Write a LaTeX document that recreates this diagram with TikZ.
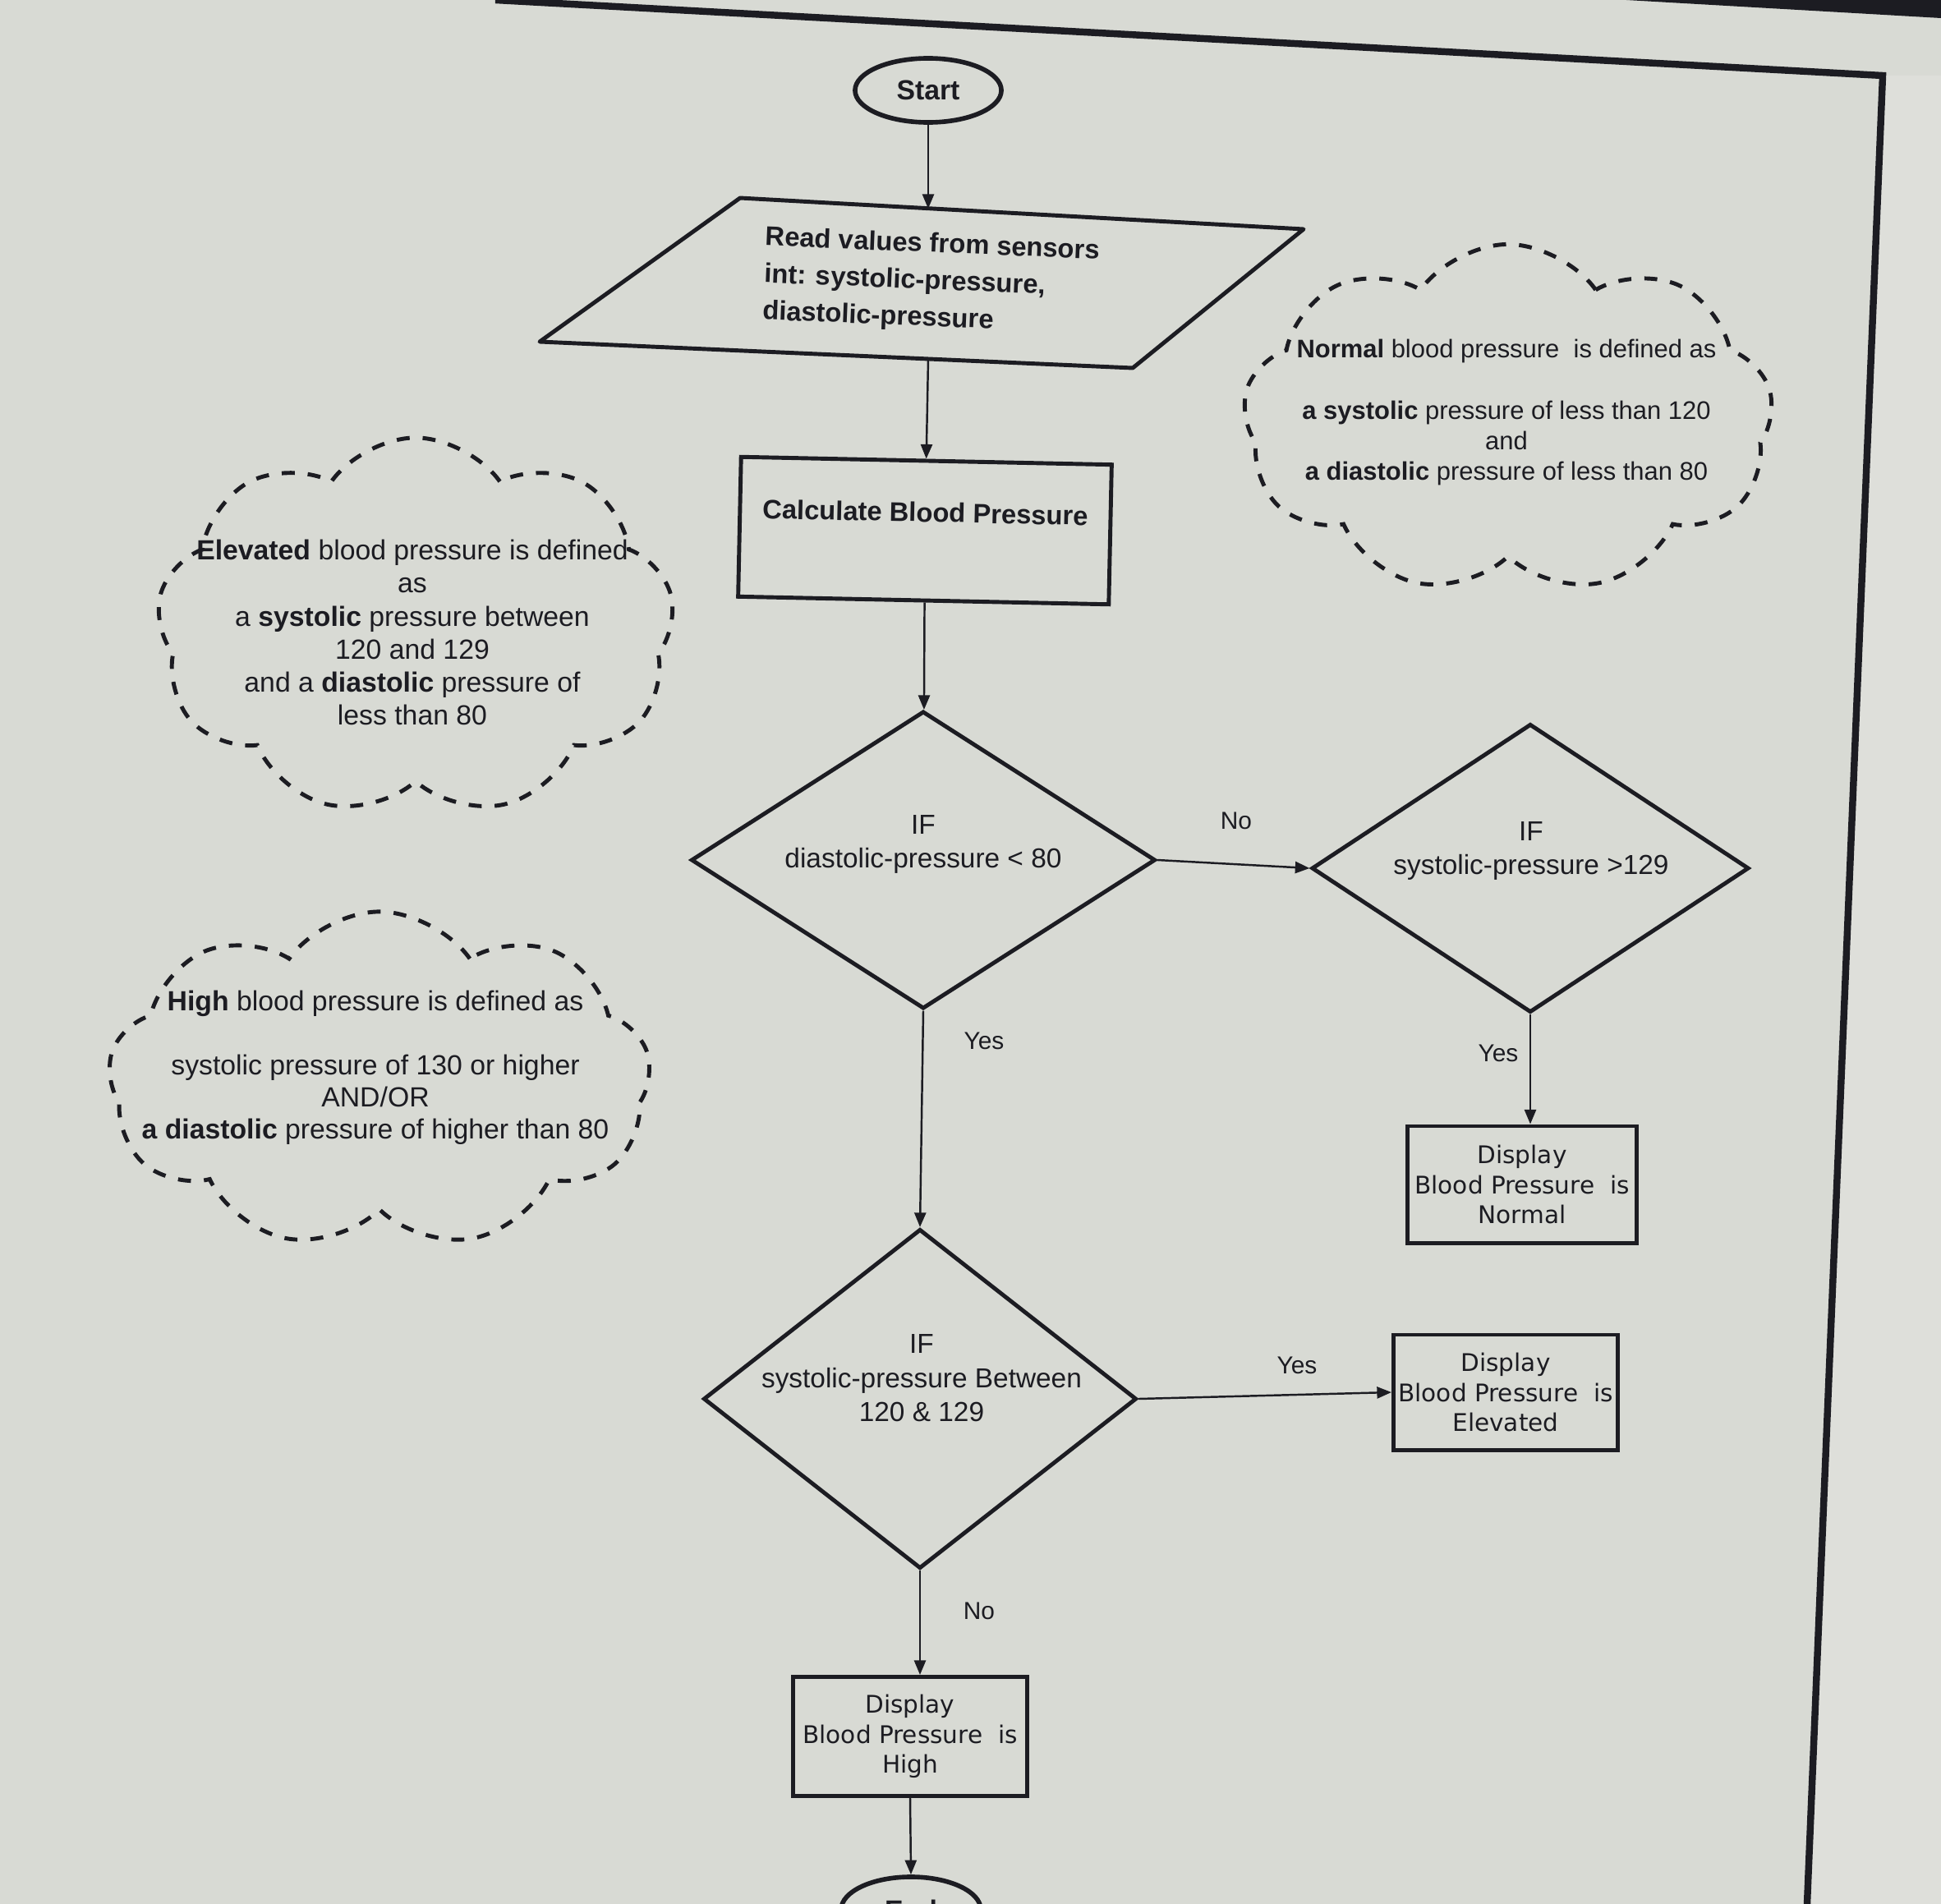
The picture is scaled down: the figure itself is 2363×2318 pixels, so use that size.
\documentclass[tikz,border=0pt]{standalone}
\usepackage{fontspec}
\setmainfont{Liberation Sans}
\newfontfamily\dvs{DejaVu Sans}
\usetikzlibrary{shapes.geometric,shapes.symbols,arrows.meta}
\definecolor{bgc}{RGB}{216,218,212}
\definecolor{bgr}{RGB}{222,223,218}
\definecolor{ink}{RGB}{28,28,34}
\begin{document}
\begin{tikzpicture}[x=0.01cm,y=-0.01cm,
  shapeline/.style={draw=ink, line width=1.4pt, line join=round},
  conn/.style={draw=ink, line width=0.7pt, -{Triangle[length=5pt,width=4pt]}},
  startend/.style={ellipse, draw=ink, line width=1.6pt, minimum width=1.78cm, minimum height=0.78cm, inner sep=0pt, font=\bfseries\fontsize{9.6}{11}\selectfont, text=ink},
  dia/.style={diamond, draw=ink, line width=1.4pt, inner sep=0pt},
  boxx/.style={rectangle, draw=ink, line width=1.4pt, align=center, inner sep=0pt, text=ink},
  disp/.style={boxx, font=\dvs\fontsize{8.4}{10.3}\selectfont},
  flowtxt/.style={font=\bfseries\fontsize{9.3}{12.8}\selectfont, text=ink},
  diatxt/.style={align=center, font=\fontsize{9.5}{11.8}\selectfont, text=ink},
  lbl/.style={font=\fontsize{8.5}{10}\selectfont, text=ink},
  cloudb/.style={cloud, cloud puffs=9, cloud puff arc=110, cloud ignores aspect, draw=ink, line width=1.4pt, dash pattern=on 4.5pt off 4.5pt, inner sep=0pt},
  cloudtxt/.style={align=center, text=ink},
]
\useasboundingbox (0,0) rectangle (2363,2318);
\clip (0,0) rectangle (2363,2318);
\fill[bgc] (0,0) rectangle (2363,2318);
% page edge of the photographed screen
\fill[bgr] (2292,92) -- (2363,92) -- (2363,2318) -- (2200,2318) -- cycle;
\fill[ink] (1980,0) -- (2363,0) -- (2363,22) -- cycle;
\draw[ink, line width=2.4pt] (603,0) -- (2292,92) -- (2200,2318);

% start
\node[startend] (start) at (1130,110) {Start};

% input parallelogram
\coordinate (pTL) at (901,241);
\coordinate (pTR) at (1587,279);
\coordinate (pBR) at (1379,448);
\coordinate (pBL) at (657,416);
\draw[shapeline] (pTL) -- (pTR) -- (pBR) -- (pBL) -- cycle;
\coordinate (pin) at (1130,254);
\coordinate (pout) at (1130,437);
\node[flowtxt, anchor=west, align=left, rotate=-2.3] (read) at (918,335)
  {Read values from sensors\\int: systolic-pressure,\\diastolic-pressure};

% calculate
\node[boxx, rotate=-1.2, minimum width=4.51cm, minimum height=1.70cm, flowtxt, align=center] (calc) at (1126,646)
  {Calculate Blood Pressure\\ \mbox{}};

% decisions
\node[dia, minimum width=5.65cm, minimum height=3.62cm, aspect=1.56] (d1) at (1124,1047) {};
\node[diatxt] (d1t) at (1124,1028) {IF\\diastolic-pressure < 80};

\node[dia, minimum width=5.32cm, minimum height=3.51cm, aspect=1.52] (d2) at (1863,1057) {};
\node[diatxt] (d2t) at (1864,1036) {IF\\systolic-pressure >129};

\node[dia, minimum width=5.27cm, minimum height=4.13cm, aspect=1.28] (d3) at (1120,1703) {};
\node[diatxt] (d3t) at (1122,1678) {IF\\systolic-pressure Between\\120 \& 129};

% outputs
\node[disp, minimum width=2.79cm, minimum height=1.42cm] (normal) at (1853,1442) {Display\\Blood Pressure\ \ is\\Normal};
\node[disp, minimum width=2.73cm, minimum height=1.40cm] (elev) at (1833,1695) {Display\\Blood Pressure\ \ is\\Elevated};
\node[disp, minimum width=2.85cm, minimum height=1.45cm] (high) at (1108,2114) {Display\\Blood Pressure\ \ is\\High};

\node[startend, minimum width=1.70cm, minimum height=0.80cm] (end) at (1109,2325) {End};

% connectors
\draw[conn] (start) -- (pin);
\draw[conn] (pout) -- (calc);
\draw[conn] (calc) -- (d1);
\draw[conn] (d1.east) -- (d2.west);
\draw[conn] (d2.south) -- (d2.south |- normal.north);
\draw[conn] (d1.south) -- (d3.north);
\draw[conn] (d3.east) -- (elev.west);
\draw[conn] (d3.south) -- (d3.south |- high.north);
\draw[conn] (high.south) -- (end.north);

% labels
\node[lbl] (lno1) at (1505,999) {No};
\node[lbl] (lyes1) at (1824,1282) {Yes};
\node[lbl] (lyes2) at (1198,1267) {Yes};
\node[lbl] (lyes3) at (1579,1662) {Yes};
\node[lbl] (lno2) at (1192,1961) {No};

% clouds
\node[cloudb, minimum width=6.45cm, minimum height=4.25cm] (cn) at (1836,510) {};
\node[cloudtxt, font=\fontsize{8.8}{10.6}\selectfont] (cnt) at (1834,502)
  {\textbf{Normal} blood pressure\ \ is defined as\\ \mbox{}\\\textbf{a systolic} pressure of less than 120\\and\\\textbf{a diastolic} pressure of less than 80};

\node[cloudb, minimum width=6.30cm, minimum height=4.60cm] (ce) at (506,763) {};
\node[cloudtxt, font=\fontsize{9.6}{11.4}\selectfont] (cet) at (502,770)
  {\textbf{Elevated} blood pressure is defined\\as\\a \textbf{systolic} pressure between\\120 and 129\\and a \textbf{diastolic} pressure of\\less than 80};

\node[cloudb, minimum width=6.60cm, minimum height=4.10cm] (ch) at (462,1315) {};
\node[cloudtxt, font=\fontsize{9.6}{11.1}\selectfont] (cht) at (457,1300)
  {\textbf{High} blood pressure is defined as\\ \mbox{}\\systolic pressure of 130 or higher\\AND/OR\\\textbf{a diastolic} pressure of higher than 80};
\end{tikzpicture}
\end{document}
